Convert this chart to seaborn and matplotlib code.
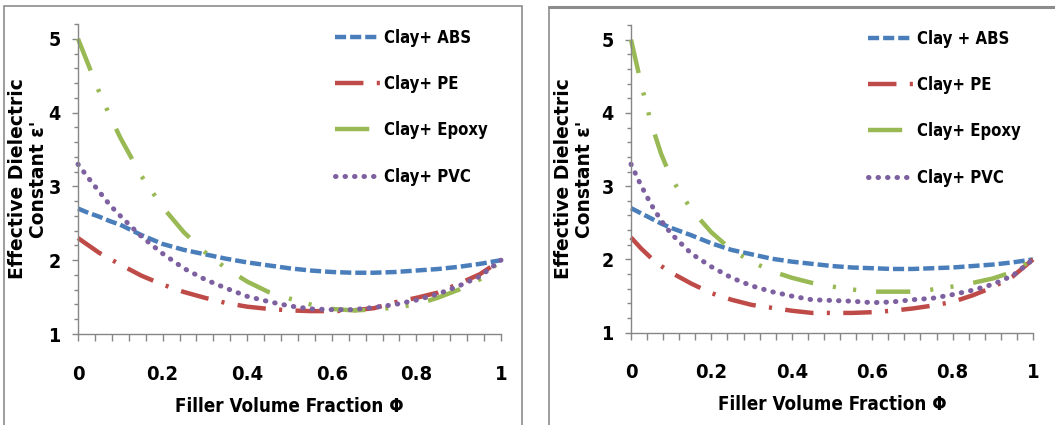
import numpy as np
import pandas as pd
import seaborn as sns
import matplotlib.pyplot as plt
from matplotlib.lines import Line2D
from matplotlib.patches import Rectangle
from matplotlib.ticker import MultipleLocator

# filler volume fraction grid
phi = [0, 0.025, 0.05, 0.075, 0.1, 0.15, 0.2, 0.25, 0.3, 0.35, 0.4, 0.45,
       0.5, 0.55, 0.6, 0.65, 0.7, 0.75, 0.8, 0.85, 0.9, 0.95, 1.0]

# left panel
abs_left = [2.70, 2.64, 2.59, 2.53, 2.48, 2.34, 2.22, 2.14, 2.08, 2.02, 1.97, 1.93,
            1.89, 1.86, 1.84, 1.83, 1.83, 1.84, 1.86, 1.88, 1.91, 1.95, 2.00]
pe_left = [2.30, 2.20, 2.10, 2.02, 1.94, 1.79, 1.67, 1.57, 1.49, 1.42, 1.37, 1.34,
           1.32, 1.31, 1.31, 1.32, 1.35, 1.43, 1.49, 1.56, 1.68, 1.81, 2.00]
epoxy_left = [5.00, 4.64, 4.28, 3.96, 3.66, 3.14, 2.72, 2.38, 2.11, 1.89, 1.71, 1.57,
              1.48, 1.40, 1.34, 1.32, 1.33, 1.36, 1.40, 1.49, 1.60, 1.74, 2.00]
pvc_left = [3.30, 3.11, 2.93, 2.75, 2.60, 2.32, 2.09, 1.89, 1.74, 1.62, 1.51, 1.44,
            1.38, 1.34, 1.33, 1.33, 1.36, 1.40, 1.46, 1.54, 1.65, 1.78, 2.00]

# right panel
abs_right = [2.70, 2.63, 2.56, 2.49, 2.43, 2.33, 2.22, 2.13, 2.07, 2.01, 1.97, 1.94,
             1.91, 1.89, 1.88, 1.87, 1.87, 1.88, 1.89, 1.91, 1.93, 1.96, 2.00]
pe_right = [2.30, 2.15, 2.02, 1.91, 1.82, 1.67, 1.54, 1.45, 1.38, 1.34, 1.30, 1.27,
            1.27, 1.27, 1.28, 1.30, 1.33, 1.37, 1.42, 1.51, 1.62, 1.77, 2.00]
epoxy_right = [5.00, 4.40, 3.86, 3.44, 3.11, 2.68, 2.37, 2.13, 1.97, 1.84, 1.75, 1.68,
               1.63, 1.59, 1.56, 1.56, 1.56, 1.59, 1.63, 1.68, 1.74, 1.83, 2.00]
pvc_right = [3.30, 3.01, 2.75, 2.53, 2.35, 2.08, 1.90, 1.75, 1.64, 1.56, 1.50, 1.45,
             1.44, 1.43, 1.41, 1.42, 1.45, 1.47, 1.52, 1.58, 1.66, 1.78, 2.00]

labels_left = ['Clay+ ABS', 'Clay+ PE', 'Clay+ Epoxy', 'Clay+ PVC']
labels_right = ['Clay + ABS', 'Clay+ PE', 'Clay+ Epoxy', 'Clay+ PVC']

colors = ['#4A7EBB', '#BE4B48', '#98B954', '#7D60A0']
widths = [3.2, 3.2, 3.2, 3.6]
dash_patterns = [(2.5, 0.9), (6.4, 3.0, 0.7, 3.0),
                 (7.7, 4.5, 0.7, 3.9, 0.7, 4.5), (0.1, 1.8)]
caps = ['butt', 'butt', 'butt', 'round']

sns.set_style('white')
plt.rcParams['font.family'] = ['DejaVu Sans']
plt.rcParams['font.stretch'] = 'condensed'
plt.rcParams['text.color'] = 'black'
plt.rcParams['xtick.color'] = 'black'
plt.rcParams['ytick.color'] = 'black'
plt.rcParams['axes.labelcolor'] = 'black'

fig = plt.figure(figsize=(10.55, 4.25), dpi=100)
W, H = 1055, 425

# panel frames
fig.add_artist(Rectangle((3.5 / W, -0.05), (522 - 3.5) / W, 1 - 6 / H + 0.05,
                         transform=fig.transFigure, fill=False,
                         edgecolor='#8c8c8c', lw=1.2))
fig.add_artist(Line2D([549 / W, 549 / W], [-0.05, 1 - 7 / H], transform=fig.transFigure,
                      color='#8c8c8c', lw=1.2))
fig.add_artist(Line2D([549 / W, 1.05], [1 - 7 / H, 1 - 7 / H], transform=fig.transFigure,
                      color='#8c8c8c', lw=2.2))

panels = [
    dict(rect=[78 / W, 1 - 334 / H, 423 / W, 310 / H],
         series=[abs_left, pe_left, epoxy_left, pvc_left], labels=labels_left,
         leg_x=0.608, ylab_x=-0.118),
    dict(rect=[631 / W, 1 - 332.7 / H, 402 / W, 307.7 / H],
         series=[abs_right, pe_right, epoxy_right, pvc_right], labels=labels_right,
         leg_x=0.59, ylab_x=-0.142),
]

for p in panels:
    ax = fig.add_axes(p['rect'])
    for vals, lab, col, lw, pat, cap in zip(p['series'], p['labels'], colors, widths,
                                            dash_patterns, caps):
        df = pd.DataFrame({'phi': phi, 'eps': vals})
        sns.lineplot(data=df, x='phi', y='eps', ax=ax, color=col, linewidth=lw,
                     label=lab, clip_on=False)
        line = ax.lines[-1]
        line.set_dashes(pat)
        line.set_dash_capstyle(cap)

    ax.set_xlim(0, 1)
    ax.set_ylim(1, 5.2)
    ax.xaxis.set_minor_locator(MultipleLocator(0.04))
    ax.yaxis.set_minor_locator(MultipleLocator(0.2))
    ax.set_xticks([0, 0.2, 0.4, 0.6, 0.8, 1.0])
    ax.set_xticklabels(['0', '0.2', '0.4', '0.6', '0.8', '1'])
    ax.set_yticks([1, 2, 3, 4, 5])
    ax.set_yticklabels(['1', '2', '3', '4', '5'])

    for s in ['top', 'right']:
        ax.spines[s].set_visible(False)
    for s in ['left', 'bottom']:
        ax.spines[s].set_color('#868686')
        ax.spines[s].set_linewidth(1.0)

    ax.tick_params(axis='both', which='both', direction='out', color='#868686',
                   width=1.0, left=True, bottom=True, labelcolor='black')
    ax.tick_params(axis='y', which='major', length=4.5, pad=8, labelsize=14)
    ax.tick_params(axis='y', which='minor', length=3)
    ax.tick_params(axis='x', which='major', length=5, pad=17, labelsize=14.5)
    ax.tick_params(axis='x', which='minor', length=5)
    for t in ax.get_xticklabels() + ax.get_yticklabels():
        t.set_fontweight('bold')
        t.set_fontstretch('condensed')

    ax.set_xlabel('Filler Volume Fraction Φ', fontsize=13.5, fontweight='bold',
                  fontstretch='condensed', va='center')
    ax.xaxis.set_label_coords(0.5, -(406 - 334) / 310)
    ax.set_ylabel("Effective Dielectric\nConstant ε'", family='DejaVu Sans',
                  fontstretch='normal', fontsize=13.5, fontweight='bold', va='center',
                  linespacing=1.1)
    ax.yaxis.set_label_coords(p['ylab_x'], 0.5)

    ax.legend(loc='upper left', bbox_to_anchor=(p['leg_x'], 0.985), frameon=False,
              borderpad=0, borderaxespad=0, handlelength=2.7, handletextpad=0.2,
              labelspacing=1.7,
              prop={'size': 12, 'weight': 'bold', 'stretch': 'condensed'})

fig.savefig('out.png', dpi=100)
